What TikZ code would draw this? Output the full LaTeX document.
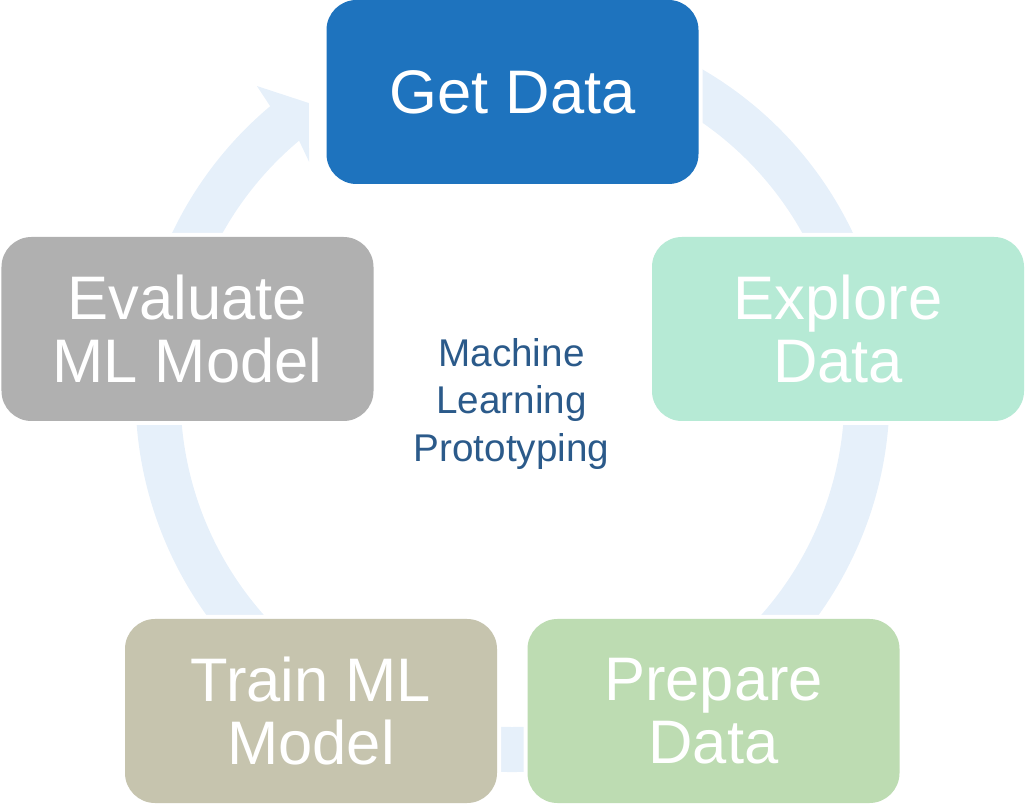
\documentclass[tikz,border=0pt]{standalone}
\usepackage{fontspec}
\setmainfont{Liberation Sans}
\definecolor{getblue}{HTML}{1E73BE}
\definecolor{exploremint}{HTML}{B6EAD5}
\definecolor{preparegreen}{HTML}{BDDCB2}
\definecolor{trainkhaki}{HTML}{C6C4AE}
\definecolor{evalgray}{HTML}{B0B0B0}
\definecolor{ringblue}{HTML}{E6F0FA}
\definecolor{hubblue}{HTML}{2B5A8A}

\begin{document}
\begin{tikzpicture}[stage/.style={rectangle,rounded corners=0.6cm,minimum width=7.44cm,minimum height=3.68cm,inner sep=0pt,align=center,text=white,font=\fontsize{35}{36}\selectfont,preaction={draw=white,line width=0.16cm}}]
\useasboundingbox (0,0) rectangle (20.5,16.08);
\coordinate (hub) at (10.25,8.18);
% circular arrow behind the stages
\fill[ringblue,shift={(hub)}] (59.8:7.54) arc[start angle=59.8,end angle=-230,radius=7.54]
  -- (129.6:8.02) -- (124.9:7.12) -- (131.1:6.19) -- (130:6.64)
  arc[start angle=-230,end angle=55.2,radius=6.64] -- cycle;
\node (getdata) at (10.25,14.24) [stage,fill=getblue] {Get Data};
\node (explore) at (16.76,9.5) [stage,fill=exploremint] {Explore\\Data};
\node (prepare) at (14.27,1.86) [stage,fill=preparegreen] {Prepare\\Data};
\node (train) at (6.22,1.86) [stage,fill=trainkhaki] {Train ML\\Model};
\node (evaluate) at (3.75,9.5) [stage,fill=evalgray] {Evaluate\\ML Model};
\node (hubtext) at (10.23,8.0) [text=hubblue,align=center,font=\fontsize{22}{27}\selectfont] {Machine\\Learning\\Prototyping};
\end{tikzpicture}
\end{document}
